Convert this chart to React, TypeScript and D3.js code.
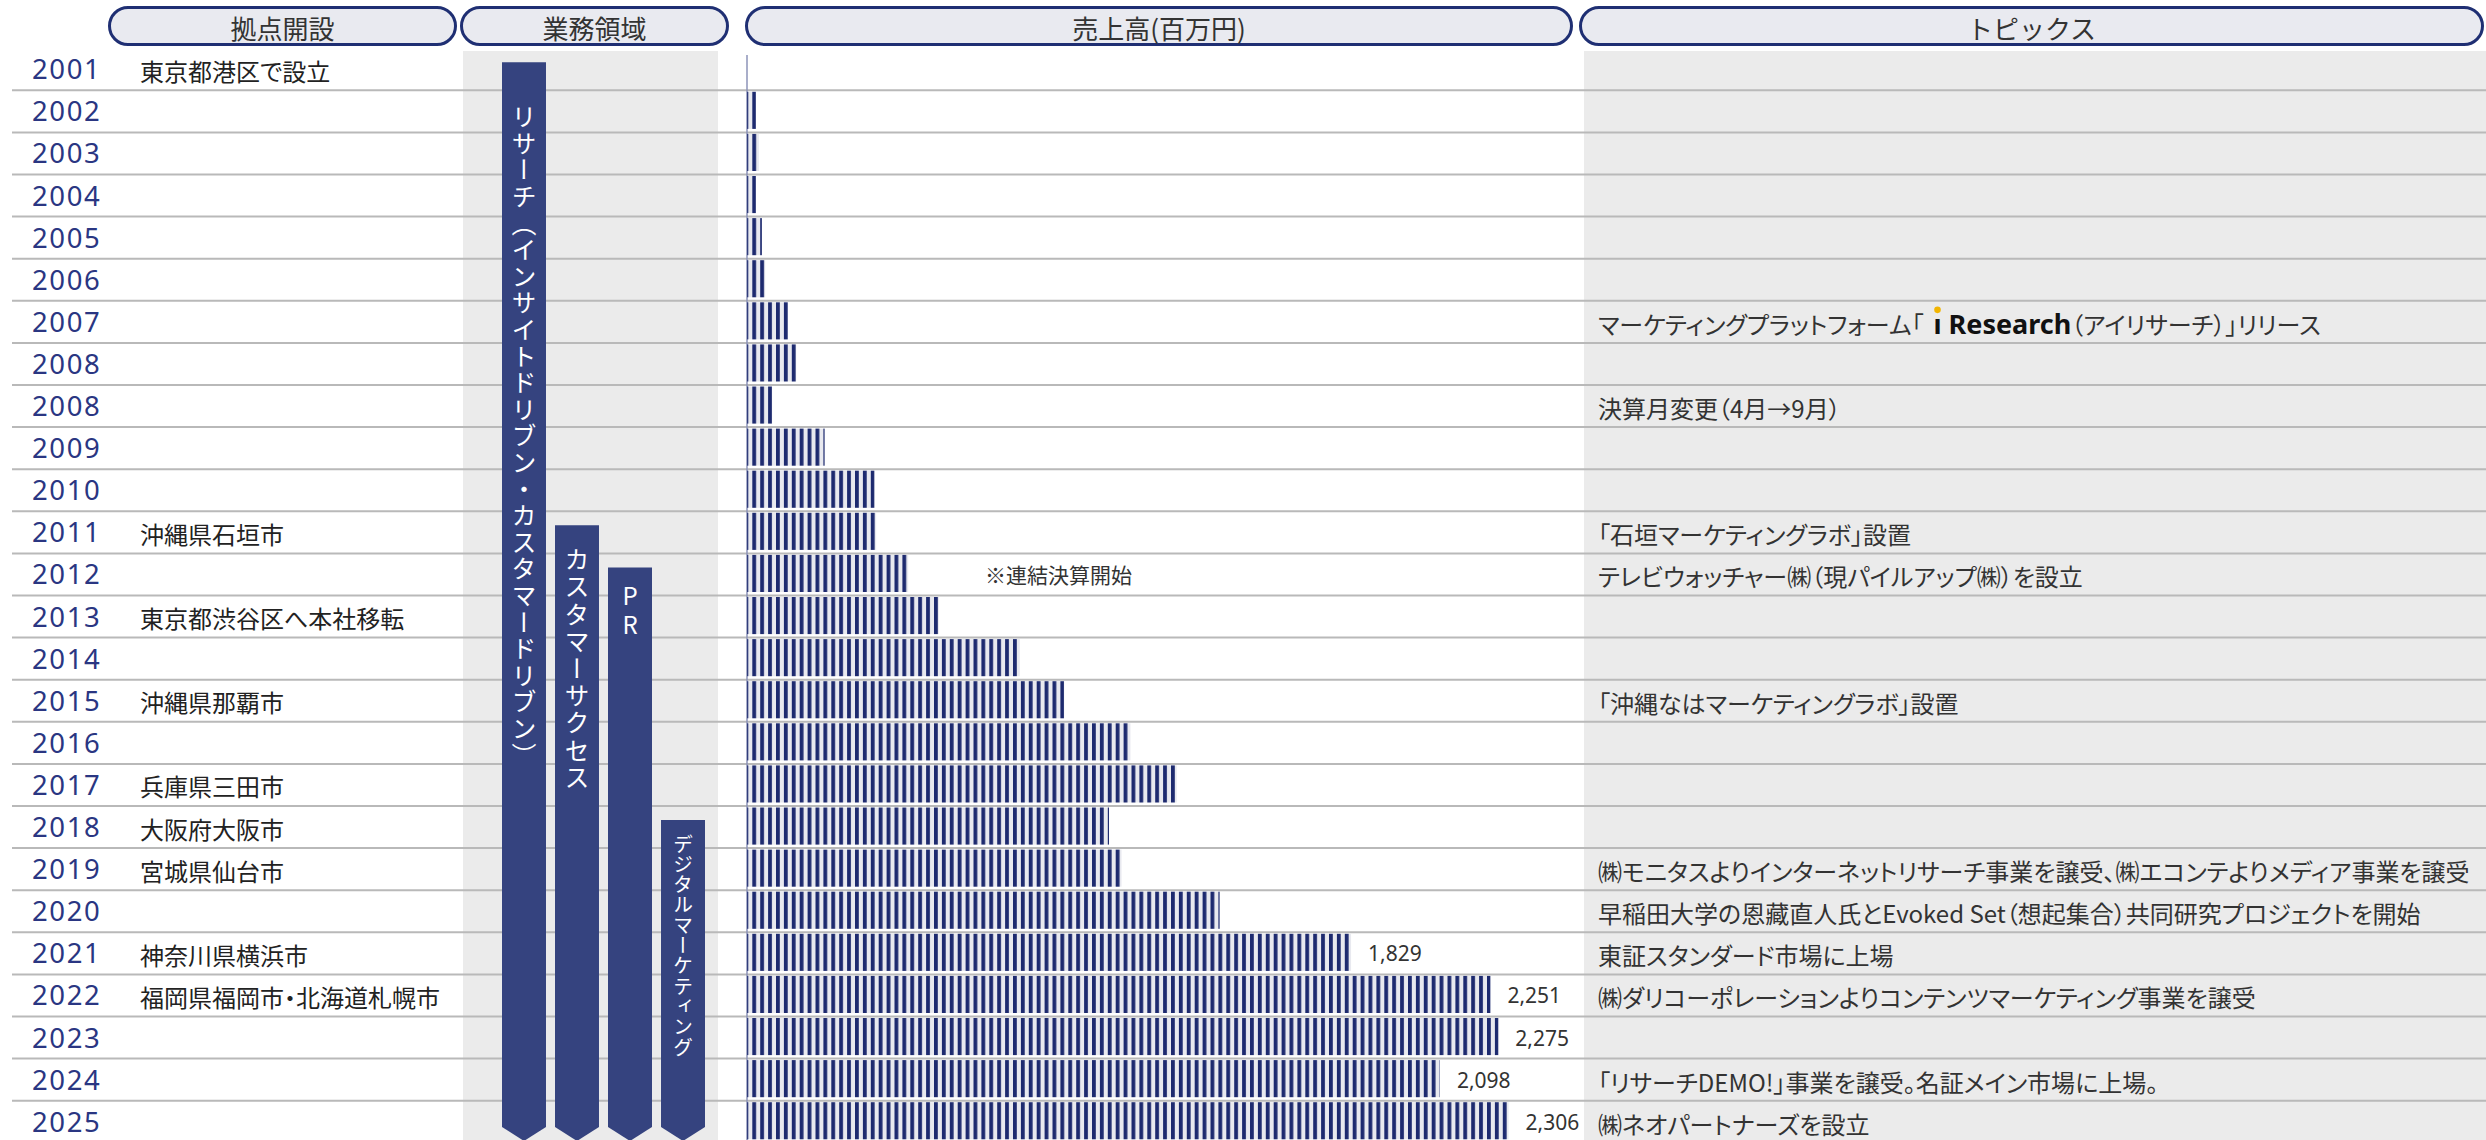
import React, { useEffect, useRef } from 'react';
import * as d3 from 'd3';

// ---------- data ----------
const rowYears = ['2001','2002','2003','2004','2005','2006','2007','2008','2008','2009','2010','2011','2012','2013','2014','2015','2016','2017','2018','2019','2020','2021','2022','2023','2024','2025'];
const sales = [0, 27, 36, 27, 45, 55, 124, 149, 76, 235, 386, 391, 488, 581, 826, 960, 1161, 1301, 1096, 1134, 1431, 1829, 2251, 2275, 2098, 2306];
const labeledYears = ['2021','2022','2023','2024','2025'];
const locations = ['東京都港区で設立','','','','','','','','','','','沖縄県石垣市','','東京都渋谷区へ本社移転','','沖縄県那覇市','','兵庫県三田市','大阪府大阪市','宮城県仙台市','','神奈川県横浜市','福岡県福岡市・北海道札幌市','','',''];
const topics = ['','','','','','','マーケティングプラットフォーム「{ı Research}（アイリサーチ）」リリース','','決算月変更（4月→9月）','','','「石垣マーケティングラボ」設置','テレビウォッチャー㈱（現パイルアップ㈱）を設立','','','「沖縄なはマーケティングラボ」設置','','','','㈱モニタスよりインターネットリサーチ事業を譲受、㈱エコンテよりメディア事業を譲受','早稲田大学の恩藏直人氏とEvoked Set（想起集合）共同研究プロジェクトを開始','東証スタンダード市場に上場','㈱ダリコーポレーションよりコンテンツマーケティング事業を譲受','','「リサーチDEMO!」事業を譲受。名証メイン市場に上場。','㈱ネオパートナーズを設立'];
const headerLabels = ['拠点開設','業務領域','売上高(百万円)','トピックス'];
const domainLabels = ['リサーチ（インサイトドリブン・カスタマードリブン）','カスタマーサクセス','PR','デジタルマーケティング'];
const domainStartRow = [0, 11, 12, 18];
const noteRow = 12;
const noteText = '※連結決算開始';

const JP = '"Noto Sans CJK JP", "Noto Sans", sans-serif';
const NAVY = '#1d2a6f';
const DOMAIN = '#35437f';

export default function App() {
  const ref = useRef<SVGSVGElement>(null);
  useEffect(() => {
    const W = 2486, H = 1140;
    const svg = d3.select(ref.current);
    svg.selectAll('*').remove();

    const rows = d3.range(rowYears.length);
    const rowH = 42.1;
    const y = d3.scaleBand<number>().domain(rows).range([48.2, 48.2 + rowH * rows.length]);
    const x = d3.scaleLinear().domain([0, 2306]).range([747, 1508.6]);
    const dx = d3.scaleBand<number>().domain(d3.range(domainLabels.length)).range([502, 705]).paddingInner(0.17).paddingOuter(0);

    svg.append('rect').attr('width', W).attr('height', H).attr('fill', '#fff');

    const defs = svg.append('defs');
    const pat = defs.append('pattern').attr('id', 'stripes').attr('patternUnits', 'userSpaceOnUse')
      .attr('x', 744.4).attr('y', 0).attr('width', 7.9).attr('height', 20);
    pat.append('rect').attr('width', 7.9).attr('height', 20).attr('fill', '#e8e9ef');
    pat.append('rect').attr('x', 0).attr('width', 3.8).attr('height', 20).attr('fill', NAVY);

    // gray bands
    svg.append('rect').attr('x', 463).attr('y', 51).attr('width', 255).attr('height', H - 51).attr('fill', '#ebebeb');
    svg.append('rect').attr('x', 1584).attr('y', 51).attr('width', W - 1584).attr('height', H - 51).attr('fill', '#ebebeb');

    // row lines
    svg.append('g').selectAll('line').data(rows.slice(1)).join('line')
      .attr('x1', 12).attr('x2', W)
      .attr('y1', d => y(d)!).attr('y2', d => y(d)!)
      .attr('stroke', '#b9b9b9').attr('stroke-width', 2);

    // headers
    const headerSpans = [[108, 457], [460, 729], [745, 1573], [1579, 2484]];
    const hg = svg.append('g');
    headerLabels.forEach((t, i) => {
      const [a, b] = headerSpans[i];
      hg.append('rect').attr('x', a + 1.5).attr('y', 7.5).attr('width', b - a - 3).attr('height', 37)
        .attr('rx', 18.5).attr('fill', '#e9eaf0').attr('stroke', '#1f2f73').attr('stroke-width', 3);
      hg.append('text').attr('x', (a + b) / 2).attr('y', 27).attr('text-anchor', 'middle')
        .attr('dominant-baseline', 'central').attr('font-family', JP).attr('font-size', 26)
        .attr('fill', '#333').text(t);
    });

    // year labels
    svg.append('g').selectAll('text').data(rows).join('text')
      .attr('x', 32).attr('y', d => y(d)! + rowH / 2 - 0.5)
      .attr('dominant-baseline', 'central').attr('font-family', '"Noto Sans", sans-serif')
      .attr('font-size', 27.5).attr('letter-spacing', 1.6).attr('fill', '#2a3682')
      .text(d => rowYears[d]);

    // locations
    svg.append('g').selectAll('text').data(rows.filter(d => locations[d])).join('text')
      .attr('x', 140).attr('y', d => y(d)! + rowH / 2 + 1)
      .attr('dominant-baseline', 'central').attr('font-family', JP)
      .attr('font-size', 24).attr('fill', '#222')
      .style('font-feature-settings', '"palt"')
      .text(d => locations[d]);

    // axis line
    svg.append('line').attr('x1', 747).attr('x2', 747).attr('y1', 55).attr('y2', H)
      .attr('stroke', '#8c93b8').attr('stroke-width', 1.5);

    // revenue bars
    svg.append('g').selectAll('rect').data(rows.filter(d => sales[d] > 0)).join('rect')
      .attr('x', x(0)).attr('y', d => y(d)! + 1.5)
      .attr('width', d => x(sales[d]) - x(0)).attr('height', rowH - 5)
      .attr('fill', 'url(#stripes)');

    const fmt = d3.format(',');
    svg.append('g').selectAll('text').data(rows.filter(d => labeledYears.includes(rowYears[d]))).join('text')
      .attr('x', d => x(sales[d]) + 17).attr('y', d => y(d)! + rowH / 2)
      .attr('dominant-baseline', 'central').attr('font-family', '"Noto Sans", sans-serif')
      .attr('font-size', 21).attr('fill', '#333')
      .text(d => fmt(sales[d]));

    svg.append('text').attr('x', 985).attr('y', y(noteRow)! + rowH / 2)
      .attr('dominant-baseline', 'central').attr('font-family', JP)
      .attr('font-size', 21).attr('fill', '#333').text(noteText);

    // domain bars
    const textOffsets = [42, 22, 16, 14];
    const textSizes = [25, 25, 24, 20];
    const textSpacing = [1.6, 2.2, 5, 0.3];
    const dg = svg.append('g');
    domainLabels.forEach((t, i) => {
      const x0 = dx(i)!, x1 = x0 + dx.bandwidth(), xc = (x0 + x1) / 2;
      const top = y(domainStartRow[i])! + 14;
      dg.append('path')
        .attr('d', `M${x0},${top}H${x1}V1127L${xc},1141L${x0},1127Z`)
        .attr('fill', DOMAIN);
      dg.append('text').attr('x', xc).attr('y', top + textOffsets[i])
        .style('writing-mode', 'vertical-rl')
        .style('text-orientation', t === 'PR' ? 'upright' : 'mixed')
        .attr('font-family', JP).attr('font-size', textSizes[i])
        .attr('letter-spacing', textSpacing[i]).attr('fill', '#fff')
        .text(t);
    });

    // topics
    const tg = svg.append('g');
    rows.filter(d => topics[d]).forEach(d => {
      const cy = y(d)! + rowH / 2 + 1;
      const txt = tg.append('text').attr('x', 1598).attr('y', cy)
        .attr('dominant-baseline', 'central').attr('font-family', JP)
        .attr('font-size', 24).attr('fill', '#333')
        .style('font-feature-settings', '"palt"');
      const parts = topics[d].split(/[{}]/);
      parts.forEach((p, k) => {
        if (!p) return;
        const ts = txt.append('tspan').text(p);
        if (k % 2 === 1) {
          ts.attr('font-family', '"Noto Sans", sans-serif').attr('font-weight', 700)
            .attr('font-size', 27).attr('fill', '#111').attr('dx', 10);
        }
      });
      if (parts.length > 1) {
        const node = txt.node() as SVGTextElement;
        const idx = parts[0].length;
        try {
          const e = node.getExtentOfChar(idx);
          tg.append('circle').attr('cx', e.x + e.width / 2).attr('cy', cy - 13)
            .attr('r', 3.3).attr('fill', '#f2b500');
        } catch (err) { /* ignore */ }
      }
    });
  }, []);
  return <svg ref={ref} width={2486} height={1140} style={{ position: 'absolute', left: 0, top: 0, display: 'block' }} />;
}
